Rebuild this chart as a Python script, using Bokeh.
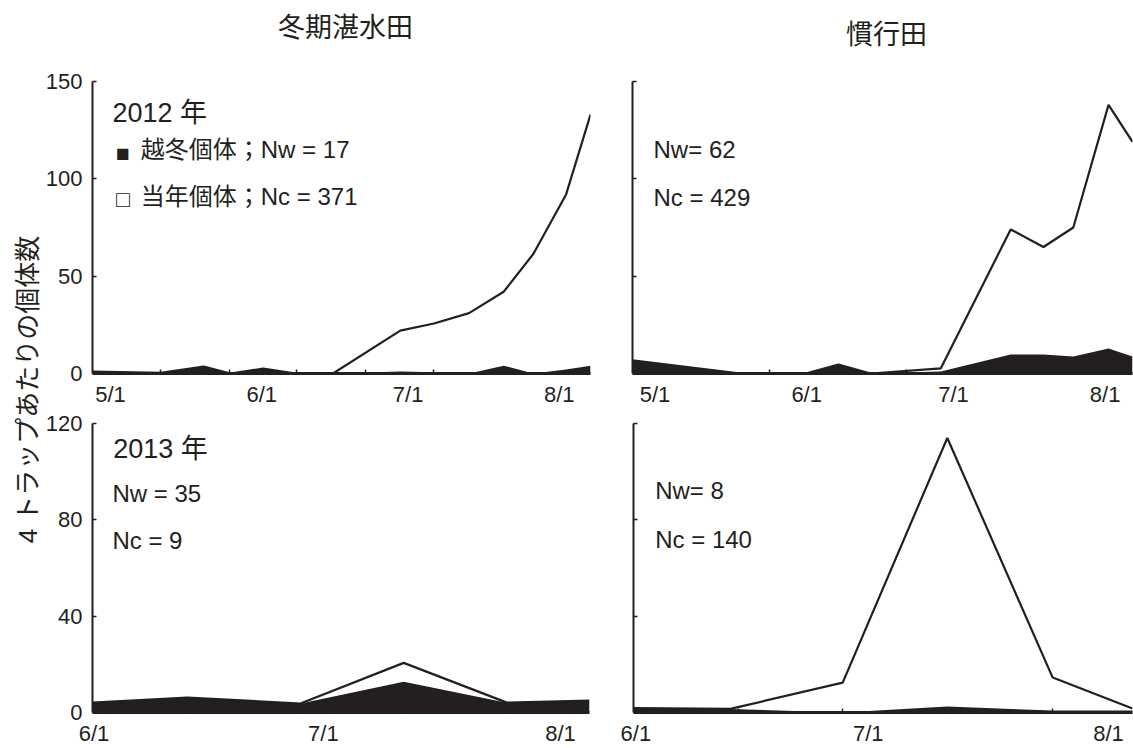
import math
from bokeh.plotting import figure
from bokeh.models import Range1d, FixedTicker
from bokeh.layouts import row, column
from bokeh.embed import file_html
from bokeh.resources import INLINE
from bokeh.core.properties import value

INK = "#231f20"
LAT = "'Liberation Sans', 'Noto Sans CJK JP'"
CJK = "'Noto Sans CJK JP', 'Liberation Sans'"

# ---------------- data (x = days from 5/1 for 2012, days from 6/1 for 2013) -------------
# 2012, 冬期湛水田
tl_day = [-3.7, 10.3, 19.1, 24.6, 31.3, 38.0, 45.6, 59.4, 66.3, 73.5, 80.6, 86.7, 93.4, 98.4]
tl_nw = [1.0, 0.3, 3.5, 0.0, 2.5, 0.0, 0.0, 1.0, 0.7, 0.0, 4.0, 0.0, 2.0, 4.0]
tl_nc = [0, 0, 0, 0, 0, 0, 0, 21, 25, 31, 38, 61.5, 90, 129]

# 2012, 慣行田
tr_day = [-4.6, 17.5, 30.8, 37.5, 44.1, 58.4, 72.7, 79.4, 85.5, 92.7, 97.6]
tr_nw = [6.7, 0, 0, 4.6, 0, 1.0, 9.7, 9.7, 8.7, 12.8, 8.7]
tr_nc = [0, 0, 0, 0, 0, 1.6, 64.3, 55.3, 66.3, 125.2, 110.3]

# 2013, 冬期湛水田
bl_day = [-0.2, 12.2, 27.0, 40.5, 54.0, 64.8]
bl_nw = [4.1, 6.2, 3.7, 12.8, 4.1, 4.9]
bl_nc = [0, 0, 0, 7.8, 0, 0]

# 2013, 慣行田
br_day = [-0.3, 12.2, 26.7, 40.2, 53.8, 64.1]
br_nw = [1.8, 1.5, 0, 2.5, 0.8, 0.8]
br_nc = [0, 0, 12.4, 111.5, 13.7, 0.9]

# tick labels
top_month_days = [0, 31, 61, 92]
top_month_labels = ["5/1", "6/1", "7/1", "8/1"]
bot_month_days = [0, 30, 61]
bot_month_labels = ["6/1", "7/1", "8/1"]
top_yticks = [0, 50, 100, 150]
bot_yticks = [0, 40, 80, 120]
tl_sample_ticks = [10.3, 24.4, 38.2, 52.3, 66.3]
tr_sample_ticks = [9.4, 23.4, 37.4, 51.4, 65.4]
bl_sample_ticks = [12.2, 27.0, 40.5, 54.0]
br_sample_ticks = [13.2, 26.7, 40.2, 53.8]

col_titles = ["冬期湛水田", "慣行田"]
y_title = "4 トラップあたりの個体数"


def panel(day, nw, nc, xr, yr, yticks, xticks, xlabels, minor, ylabels,
          width, height, bl, br, bt, bb):
    p = figure(width=width, height=height, x_range=Range1d(*xr), y_range=Range1d(*yr),
               output_backend="svg", toolbar_location=None,
               min_border_left=bl, min_border_right=br, min_border_top=bt, min_border_bottom=bb)
    p.outline_line_color = None
    p.xgrid.visible = False
    p.ygrid.visible = False
    p.background_fill_color = "white"
    p.border_fill_color = "white"
    total = [w + c for w, c in zip(nw, nc)]
    p.varea(x=day, y1=[0] * len(day), y2=nw, fill_color=INK)
    p.line(x=day, y=total, line_color=INK, line_width=2.2)

    xa = p.xaxis[0]
    xa.ticker = FixedTicker(ticks=xticks, minor_ticks=minor)
    xa.major_label_overrides = {t: l for t, l in zip(xticks, xlabels)}
    xa.major_tick_in = 0
    xa.major_tick_out = 0
    xa.minor_tick_in = 4
    xa.minor_tick_out = 0
    xa.minor_tick_line_width = 1.5
    xa.minor_tick_line_color = INK
    xa.axis_line_width = 3
    xa.axis_line_color = INK
    xa.major_label_text_font = LAT
    xa.major_label_text_font_size = "22px"
    xa.major_label_text_color = INK
    xa.major_label_standoff = 8

    ya = p.yaxis[0]
    ya.ticker = FixedTicker(ticks=yticks)
    ya.major_tick_in = 4
    ya.major_tick_out = 0
    ya.minor_tick_in = 0
    ya.minor_tick_out = 0
    ya.major_tick_line_width = 1.5
    ya.major_tick_line_color = INK
    ya.axis_line_width = 2
    ya.axis_line_color = INK
    ya.major_label_text_font = LAT
    ya.major_label_text_font_size = "22px"
    ya.major_label_text_color = INK
    if ylabels:
        ya.major_label_standoff = 10
    else:
        ya.major_label_overrides = {t: "" for t in yticks}
        ya.major_label_standoff = 0
    return p


def txt(p, x, y, s, size, align="left"):
    p.text(x=[x], y=[y], text=[s], text_font=value(LAT), text_font_size=size,
           text_color=INK, text_align=align, text_baseline="middle")


# layout geometry (page px): left strip 0..42, title strip 0..60
tl = panel(tl_day, tl_nw, tl_nc, (-3.7, 98.4), (0, 150), top_yticks, top_month_days,
           top_month_labels, tl_sample_ticks, True, 576, 350, 46, 28, 20, 37)
tr = panel(tr_day, tr_nw, tr_nc, (-4.6, 97.6), (0, 150), top_yticks, top_month_days,
           top_month_labels, tr_sample_ticks, False, 515, 350, 14, 1, 21, 37)
bl = panel(bl_day, bl_nw, bl_nc, (-0.2, 64.8), (0, 120), bot_yticks, bot_month_days,
           bot_month_labels, bl_sample_ticks, True, 576, 338, 45, 29, 12, 35)
br = panel(br_day, br_nw, br_nc, (-0.3, 64.1), (0, 120), bot_yticks, bot_month_days,
           bot_month_labels, br_sample_ticks, False, 515, 338, 15, 1, 13, 35)

# in-panel annotations
txt(tl, 0.4, 134, "2012 年", "27px")
txt(tl, 1.1, 113.3, "■", "23px")
txt(tl, 6.2, 115, "越冬個体；Nw = 17", "24px")
txt(tl, 1.1, 89.4, "□", "23px")
txt(tl, 6.2, 91, "当年個体；Nc = 371", "24px")

txt(tr, -0.3, 115, "Nw= 62", "24px")
txt(tr, -0.3, 90.6, "Nc = 429", "24px")

txt(bl, 2.5, 109.5, "2013 年", "27px")
txt(bl, 2.4, 91, "Nw = 35", "24px")
txt(bl, 2.4, 71.3, "Nc = 9", "24px")

txt(br, 2.5, 92, "Nw= 8", "24px")
txt(br, 2.5, 72, "Nc = 140", "24px")

# column title strip
ts = figure(width=1091, height=60, x_range=Range1d(0, 1091), y_range=Range1d(0, 60),
            x_axis_type=None, y_axis_type=None, output_backend="svg", toolbar_location=None,
            min_border=0)
ts.outline_line_color = None
ts.xgrid.visible = False
ts.ygrid.visible = False
ts.text(x=[303, 844], y=[35, 28], text=col_titles, text_font=value(CJK),
        text_font_size="27px", text_color=INK, text_align="center", text_baseline="middle")

# y title strip
ls = figure(width=42, height=748, x_range=Range1d(0, 42), y_range=Range1d(0, 748),
            x_axis_type=None, y_axis_type=None, output_backend="svg", toolbar_location=None,
            min_border=0)
ls.outline_line_color = None
ls.xgrid.visible = False
ls.ygrid.visible = False
ls.text(x=[27], y=[359], text=[y_title], angle=math.pi / 2, text_font=value(LAT),
        text_font_size="26px", text_color=INK, text_align="center", text_baseline="middle")

layout = row(ls, column(ts, row(tl, tr), row(bl, br)))

open("out.html", "w").write(file_html(layout, INLINE))
